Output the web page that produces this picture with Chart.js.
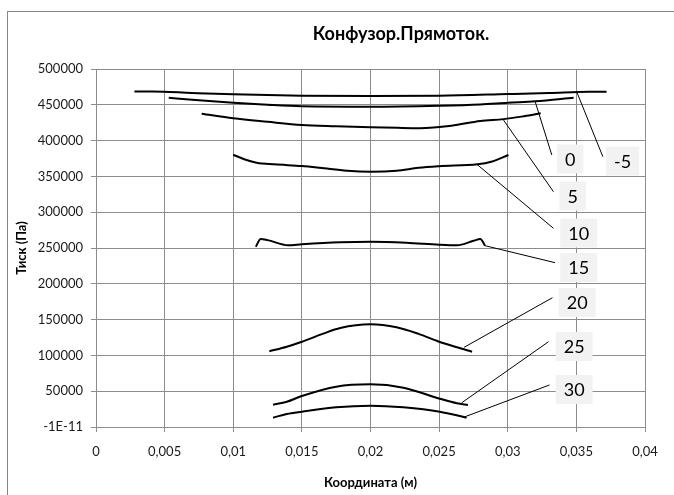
<!DOCTYPE html>
<html>
<head>
<meta charset="utf-8">
<script src="https://cdn.jsdelivr.net/npm/chart.js@4.4.0/dist/chart.umd.min.js"></script>
<style>
  html, body { margin: 0; padding: 0; background: #fff; overflow: hidden; }
  #frame { position: absolute; left: 7px; top: 11px; width: 800px; height: 600px;
           border-left: 1px solid #868686; border-top: 1px solid #868686; }
  #wrap { position: absolute; left: 0; top: 0; width: 674px; height: 495px; }
</style>
</head>
<body>
<div id="frame"></div>
<div id="wrap"><canvas id="chart" width="674" height="495"></canvas></div>
<script>
const FONT = 'Lato, "Open Sans", sans-serif';

const chartTitle = 'Конфузор.Прямоток.';
const xTitle = 'Координата (м)';
const yTitle = 'Тиск (Па)';

const xTickValues = [0, 0.005, 0.01, 0.015, 0.02, 0.025, 0.03, 0.035, 0.04];
const xTickLabels = ['0', '0,005', '0,01', '0,015', '0,02', '0,025', '0,03', '0,035', '0,04'];
const yTickValues = [0, 50000, 100000, 150000, 200000, 250000, 300000, 350000, 400000, 450000, 500000];
const yTickLabels = ['-1E-11', '50000', '100000', '150000', '200000', '250000', '300000', '350000', '400000', '450000', '500000'];

const seriesNames = ['-5', '0', '5', '10', '15', '20', '25', '30'];

// coordinate (m) and pressure (Pa) for each series
const xM5 = [0.0028, 0.0041, 0.007, 0.01, 0.015, 0.02, 0.025, 0.03, 0.033, 0.0359, 0.0372];
const pM5 = [468600, 468600, 466500, 464600, 462700, 462300, 462700, 465000, 466500, 468300, 468400];

const x0 = [0.0053, 0.007, 0.01, 0.0125, 0.015, 0.02, 0.025, 0.028, 0.03, 0.032, 0.0348];
const p0 = [459900, 457000, 452900, 450000, 447900, 447300, 448700, 450500, 452900, 454900, 459900];

const x5 = [0.0077, 0.01, 0.0125, 0.015, 0.0175, 0.02, 0.022, 0.0236, 0.0259, 0.028, 0.0297, 0.031, 0.0324];
const p5 = [437600, 431100, 426200, 421800, 420000, 418600, 417800, 417400, 420800, 427400, 430000, 433500, 438100];

const x10 = [0.01, 0.0108, 0.0117, 0.013, 0.015, 0.0163, 0.0183, 0.02, 0.0219, 0.0235, 0.025, 0.0278, 0.0288, 0.03005];
const p10 = [380300, 374000, 369100, 366800, 364500, 362100, 357900, 356500, 357900, 362100, 364300, 366900, 370500, 379900];

const x15 = [0.01164, 0.012, 0.0125, 0.014, 0.015, 0.0178, 0.02, 0.0226, 0.025, 0.0263, 0.0275, 0.028, 0.02835];
const p15 = [251800, 262600, 261000, 253800, 255200, 258000, 258800, 257400, 254600, 253800, 260000, 262600, 253200];

const x20 = [0.01263, 0.0139, 0.015, 0.0165, 0.0178, 0.02, 0.0219, 0.0235, 0.025, 0.0263, 0.0274];
const p20 = [105700, 112100, 119100, 130000, 138300, 143400, 139200, 130000, 119100, 111300, 105200];

const x25 = [0.0129, 0.0139, 0.015, 0.0175, 0.02, 0.0224, 0.02505, 0.0263, 0.0271];
const p25 = [31100, 35300, 43300, 56300, 59600, 54900, 39500, 33100, 30700];

const x30 = [0.0129, 0.0139, 0.015, 0.0175, 0.02, 0.0224, 0.02505, 0.027];
const p30 = [13000, 18200, 21400, 27500, 29700, 27500, 21400, 13000];

// data label placement (in axis units) and leader lines
const labelX = [0.03837, 0.03455, 0.03473, 0.03517, 0.03517, 0.03506, 0.03484, 0.03484];
const labelY = [371500, 374300, 322600, 270900, 222800, 173900, 112400, 52400];
const leaderFromX = [0.03504, 0.0320, 0.02969, 0.02775, 0.02835, 0.02682, 0.02665, 0.02677];
const leaderFromY = [467400, 454300, 428800, 366900, 253200, 111300, 33900, 13500];
const leaderToX = [0.03693, 0.03321, 0.03333, 0.03333, 0.03345, 0.03326, 0.03297, 0.03304];
const leaderToY = [377500, 379900, 328600, 277500, 229500, 180600, 119100, 58700];

const curves = [[xM5, pM5], [x0, p0], [x5, p5], [x10, p10], [x15, p15], [x20, p20], [x25, p25], [x30, p30]];

const annotations = {
  id: 'annotations',
  afterDraw(chart) {
    const ctx = chart.ctx;
    const xs = chart.scales.x;
    const ys = chart.scales.y;
    ctx.save();
    ctx.fillStyle = '#000';
    ctx.textAlign = 'center';
    ctx.textBaseline = 'middle';
    ctx.font = 'bold 18px ' + FONT;
    ctx.fillText(chartTitle, 401, 34);

    ctx.font = '18px ' + FONT;
    seriesNames.forEach((name, i) => {
      ctx.strokeStyle = '#000';
      ctx.lineWidth = 1;
      ctx.beginPath();
      ctx.moveTo(xs.getPixelForValue(leaderFromX[i]), ys.getPixelForValue(leaderFromY[i]));
      ctx.lineTo(xs.getPixelForValue(leaderToX[i]), ys.getPixelForValue(leaderToY[i]));
      ctx.stroke();
      const cx = xs.getPixelForValue(labelX[i]);
      const cy = ys.getPixelForValue(labelY[i]);
      const w = ctx.measureText(name).width + 16;
      const h = 29;
      ctx.fillStyle = '#f2f2f2';
      ctx.fillRect(cx - w / 2, cy - h / 2, w, h);
      ctx.fillStyle = '#000';
      ctx.fillText(name, cx, cy + 1);
    });
    ctx.restore();
  }
};

new Chart(document.getElementById('chart'), {
  type: 'line',
  data: {
    datasets: curves.map((c, i) => ({
      label: seriesNames[i],
      data: c[0].map((x, j) => ({ x: x, y: c[1][j] })),
      borderColor: '#000',
      borderWidth: 2,
      pointRadius: 0,
      fill: false,
      cubicInterpolationMode: 'monotone'
    }))
  },
  options: {
    responsive: false,
    animation: false,
    layout: { padding: { top: 69, left: 10, right: 29, bottom: 0 } },
    plugins: {
      legend: { display: false },
      tooltip: { enabled: false }
    },
    scales: {
      x: {
        type: 'linear',
        min: 0,
        max: 0.04,
        afterBuildTicks: (scale) => { scale.ticks = xTickValues.map(v => ({ value: v })); },
        afterFit: (scale) => { scale.height = 68; },
        ticks: {
          callback: (v, i) => xTickLabels[i],
          font: { family: FONT, size: 13 },
          color: '#1a1a1a',
          padding: 12,
          maxRotation: 0
        },
        grid: { color: '#8c8c8c', tickLength: 5 },
        border: { color: '#8c8c8c' },
        title: {
          display: true,
          text: xTitle,
          font: { family: FONT, size: 13, weight: 'bold' },
          color: '#000',
          padding: { top: 0, bottom: 4 }
        }
      },
      y: {
        type: 'linear',
        min: 0,
        max: 500000,
        afterBuildTicks: (scale) => { scale.ticks = yTickValues.map(v => ({ value: v })); },
        afterFit: (scale) => { scale.width = 86; },
        ticks: {
          callback: (v, i) => yTickLabels[i],
          font: { family: FONT, size: 13 },
          color: '#1a1a1a',
          padding: 8
        },
        grid: { color: '#8c8c8c', tickLength: 5 },
        border: { color: '#8c8c8c' },
        title: {
          display: true,
          text: yTitle,
          font: { family: FONT, size: 13, weight: 'bold' },
          color: '#000',
          padding: { top: 4, bottom: 0 }
        }
      }
    }
  },
  plugins: [annotations]
});
</script>
</body>
</html>
